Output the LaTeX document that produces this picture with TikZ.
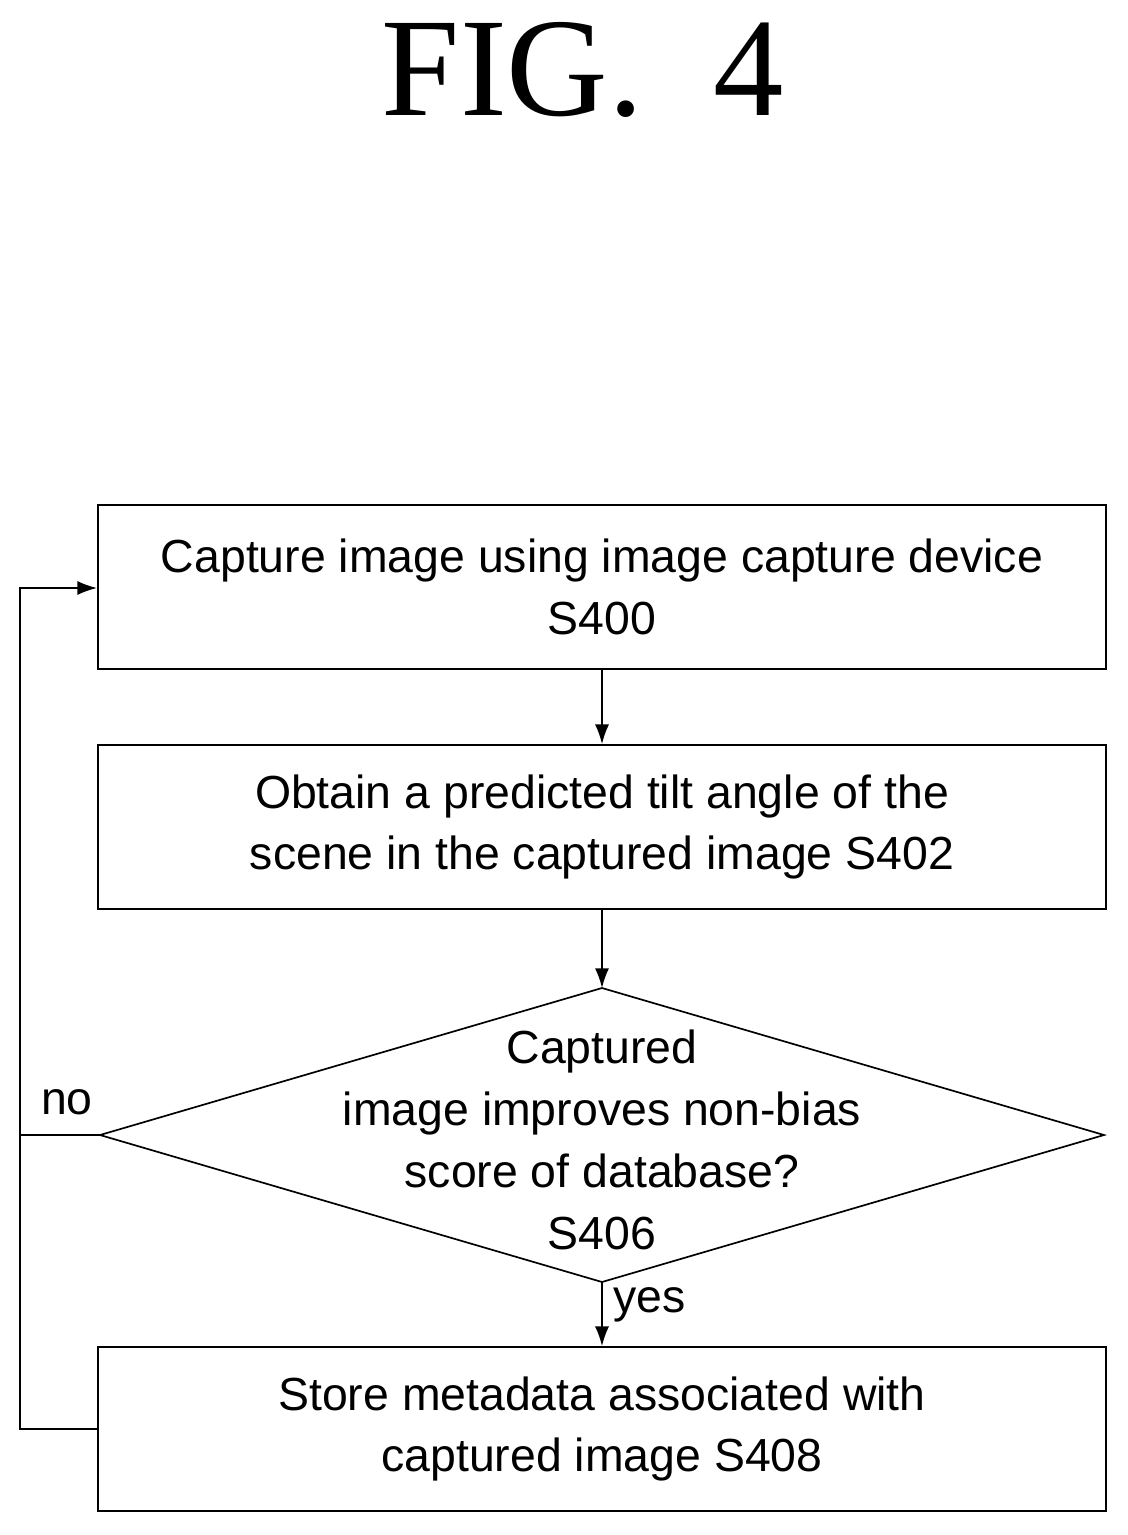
\documentclass[tikz,border=0pt]{standalone}
\usepackage{fontspec}
\setmainfont{Liberation Sans}
\newfontfamily\titlefont{Liberation Serif}
\usetikzlibrary{arrows.meta}
\tikzset{
  stepbox/.style={draw, line width=1.2pt, minimum width=25.2cm, minimum height=4.1cm,
    align=center, font=\fontsize{33}{44}\selectfont},
  decision/.style={align=center, font=\fontsize{33}{44}\selectfont, inner sep=0pt},
  flow/.style={line width=1.2pt, -{Latex[length=14pt,width=10pt]}},
  label/.style={font=\fontsize{33}{40}\selectfont}
}
\begin{document}
\begin{tikzpicture}[x=0.025cm,y=-0.025cm]
    \useasboundingbox (0,0) rectangle (1128,1535);
    \node[font=\titlefont\fontsize{100}{110}\selectfont] (Title) at (583,70) {FIG.\ \ 4};

    \node[stepbox] (Capture) at (602,587) {Capture image using image capture device\\S400};
    \node[stepbox] (Predict) at (602,827) {Obtain a predicted tilt angle of the\\scene in the captured image S402};
    \node[stepbox] (Store) at (602,1429) {Store metadata associated with\\captured image S408};

    % decision diamond
    \coordinate (ImpTop)   at (602,988);
    \coordinate (ImpRight) at (1104,1135);
    \coordinate (ImpBot)   at (602,1282);
    \coordinate (ImpLeft)  at (100,1135);
    \draw[line width=1.2pt] (ImpTop) -- (ImpRight) -- (ImpBot) -- (ImpLeft) -- cycle;
    \node[decision] (Improves) at (602,1140) {Captured\\image improves non-bias\\score of database?\\S406};

    \coordinate (LoopTop) at (20,588);
    \coordinate (LoopMid) at (20,1135);
    \coordinate (LoopBot) at (20,1429);

    \draw[flow] (Capture) -- (Predict);
    \draw[flow] (Predict) -- (ImpTop);
    \draw[flow] (ImpBot) -- node[label, right=4pt, pos=0.35] {yes} (Store);
    \draw[line width=1.2pt] (Store.west) -- (LoopBot) -- (LoopMid);
    \draw[flow] (ImpLeft) -- (LoopMid) -- (LoopTop) -- (Capture.west |- LoopTop);
    \node[label] (No) at (67,1102) {no};
\end{tikzpicture}
\end{document}
